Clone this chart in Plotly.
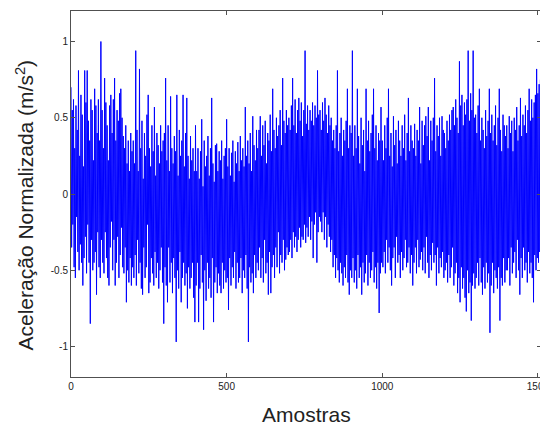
import plotly.graph_objects as go

# Every 2nd sample, values read/
passo = 2

acel_0000 = [0.70, -0.35, 0.55, -0.20, 0.62, -0.48, 0.30, -0.55, 0.58, -0.15, 0.42, -0.38, 0.81,
             -0.50, 0.25, -0.33, 0.65, -0.45, 0.52, -0.60, 0.18, -0.42, 0.81, -0.28, 0.60, -0.52,
             0.81, -0.20, 0.48, -0.45, 0.35, -0.85, 0.62, -0.30, 0.55, -0.50, 0.22, -0.45, 0.69,
             -0.38, 0.58, -0.66, 0.40, -0.25, 0.62, -0.48, 0.35, -0.55, 1.00, -0.30]
acel_0100 = [0.55, -0.45, 0.30, -0.52, 0.76, -0.25, 0.60, -0.42, 0.45, -0.55, 0.22, -0.60, 0.58,
             -0.35, 0.65, -0.18, 0.40, -0.50, 0.62, -0.30, 0.76, -0.60, 0.35, -0.45, 0.55, -0.28,
             0.48, -0.55, 0.66, -0.40, 0.69, -0.22, 0.50, -0.48, 0.38, -0.52, 0.30, -0.35, 0.45,
             -0.71, 0.20, -0.50, 0.35, -0.58, 0.15, -0.42, 0.40, -0.60, 0.28, -0.48]
acel_0200 = [0.35, -0.55, 0.20, -0.40, 0.94, -0.60, 0.42, -0.30, 0.15, -0.52, 0.82, -0.45, 0.30,
             -0.62, 0.48, -0.66, 0.10, -0.35, 0.40, -0.55, 0.25, -0.48, 0.52, -0.20, 0.65, -0.65,
             0.30, -0.58, 0.18, -0.42, 0.45, -0.52, 0.28, -0.60, 0.57, -0.38, 0.12, -0.55, 0.40,
             -0.45, 0.32, -0.62, 0.20, -0.50, 0.45, -0.35, 0.28, -0.58, 0.35, -0.85]
acel_0300 = [0.40, -0.48, 0.76, -0.60, 0.22, -0.71, 0.45, -0.35, 0.15, -0.58, 0.64, -0.45, 0.30,
             -0.65, 0.20, -0.42, 0.38, -0.55, 0.28, -0.97, 0.65, -0.50, 0.12, -0.62, 0.42, -0.38,
             0.25, -0.71, 0.35, -0.55, 0.65, -0.45, 0.18, -0.60, 0.40, -0.52, 0.63, -0.75, 0.25,
             -0.48, 0.10, -0.62, 0.38, -0.55, 0.22, -0.45, 0.30, -0.68, 0.15, -0.84]
acel_0400 = [0.45, -0.60, 0.15, -0.45, 0.30, -0.84, 0.10, -0.62, 0.28, -0.40, 0.49, -0.58, 0.05,
             -0.89, 0.35, -0.50, 0.18, -0.70, 0.25, -0.45, 0.38, -0.62, 0.12, -0.55, 0.30, -0.68,
             0.63, -0.42, 0.20, -0.84, 0.08, -0.58, 0.32, -0.48, 0.33, -0.65, 0.15, -0.52, 0.28,
             -0.60, 0.22, -0.65, 0.35, -0.45, 0.10, -0.62, 0.25, -0.50, 0.30, -0.58]
acel_0500 = [0.49, -0.55, 0.18, -0.76, 0.30, -0.42, 0.12, -0.60, 0.27, -0.48, 0.35, -0.55, 0.08,
             -0.38, 0.28, -0.62, 0.20, -0.45, 0.34, -0.58, 0.15, -0.55, 0.38, -0.42, 0.22, -0.65,
             0.30, -0.50, 0.18, -0.55, 0.57, -0.40, 0.25, -0.62, 0.35, -0.97, 0.20, -0.48, 0.40,
             -0.58, 0.15, -0.52, 0.51, -0.65, 0.32, -0.40, 0.22, -0.55, 0.42, -0.45]
acel_0600 = [0.30, -0.50, 0.42, -0.35, 0.51, -0.55, 0.25, -0.42, 0.45, -0.58, 0.32, -0.30, 0.48,
             -0.52, 0.20, -0.45, 0.40, -0.66, 0.35, -0.38, 0.52, -0.65, 0.28, -0.48, 0.69, -0.40,
             0.42, -0.55, 0.30, -0.35, 0.50, -0.48, 0.38, -0.25, 0.45, -0.52, 0.55, -0.40, 0.32,
             -0.45, 0.76, -0.30, 0.48, -0.50, 0.40, -0.43, 0.55, -0.35, 0.45, -0.40]
acel_0700 = [0.50, -0.38, 0.42, -0.30, 0.58, -0.42, 0.76, -0.25, 0.45, -0.35, 0.62, -0.28, 0.40,
             -0.38, 0.55, -0.30, 0.63, -0.22, 0.48, -0.35, 0.60, -0.28, 0.38, -0.30, 0.55, -0.20,
             0.94, -0.32, 0.46, -0.22, 0.58, -0.28, 0.42, -0.15, 0.55, -0.30, 0.48, -0.18, 0.60,
             -0.42, 0.45, -0.20, 0.58, -0.12, 0.50, -0.45, 0.81, -0.25, 0.52, -0.15]
acel_0800 = [0.55, -0.18, 0.42, -0.25, 0.60, -0.12, 0.48, -0.30, 0.63, -0.15, 0.52, -0.35, 0.40,
             -0.20, 0.58, -0.28, 0.45, -0.38, 0.50, -0.30, 0.35, -0.48, 0.42, -0.40, 0.30, -0.55,
             0.45, -0.42, 0.81, -0.50, 0.28, -0.58, 0.40, -0.45, 0.50, -0.52, 0.25, -0.60, 0.42,
             -0.48, 0.35, -0.55, 0.48, -0.40, 0.69, -0.58, 0.30, -0.66, 0.45, -0.50]
acel_0900 = [0.40, -0.55, 0.94, -0.42, 0.25, -0.58, 0.45, -0.50, 0.30, -0.62, 0.69, -0.40, 0.38,
             -0.55, 0.20, -0.48, 0.50, -0.66, 0.32, -0.45, 0.42, -0.58, 0.15, -0.52, 0.69, -0.40,
             0.35, -0.60, 0.48, -0.45, 0.28, -0.55, 0.40, -0.50, 0.52, -0.38, 0.69, -0.58, 0.30,
             -0.48, 0.45, -0.62, 0.22, -0.45, 0.40, -0.78, 0.35, -0.52, 0.57, -0.45]
acel_1000 = [0.35, -0.48, 0.22, -0.38, 0.45, -0.52, 0.30, -0.30, 0.50, -0.45, 0.69, -0.35, 0.25,
             -0.50, 0.40, -0.60, 0.18, -0.42, 0.51, -0.35, 0.32, -0.55, 0.42, -0.28, 0.20, -0.45,
             0.48, -0.40, 0.35, -0.55, 0.25, -0.38, 0.45, -0.50, 0.30, -0.42, 0.52, -0.30, 0.22,
             -0.48, 0.40, -0.45, 0.63, -0.35, 0.28, -0.52, 0.45, -0.40, 0.35, -0.60]
acel_1100 = [0.30, -0.45, 0.46, -0.35, 0.25, -0.52, 0.42, -0.30, 0.35, -0.48, 0.57, -0.43, 0.20,
             -0.38, 0.48, -0.50, 0.32, -0.35, 0.45, -0.52, 0.51, -0.28, 0.38, -0.45, 0.57, -0.55,
             0.22, -0.40, 0.48, -0.50, 0.35, -0.32, 0.50, -0.45, 0.76, -0.40, 0.28, -0.60, 0.45,
             -0.35, 0.38, -0.52, 0.50, -0.42, 0.25, -0.48, 0.51, -0.38, 0.42, -0.55]
acel_1200 = [0.40, -0.50, 0.30, -0.45, 0.48, -0.58, 0.35, -0.40, 0.52, -0.55, 0.42, -0.48, 0.55,
             -0.35, 0.57, -0.60, 0.45, -0.52, 0.62, -0.45, 0.50, -0.65, 0.40, -0.55, 0.87, -0.71,
             0.58, -0.48, 0.65, -0.62, 0.45, -0.55, 0.60, -0.68, 0.52, -0.77, 0.62, -0.50, 0.94,
             -0.65, 0.48, -0.58, 0.66, -0.83, 0.55, -0.60, 0.94, -0.52, 0.50, -0.62]
acel_1300 = [0.52, -0.55, 0.40, -0.45, 0.58, -0.60, 0.69, -0.42, 0.35, -0.58, 0.50, -0.66, 0.42,
             -0.48, 0.30, -0.62, 0.55, -0.45, 0.38, -0.58, 0.48, -0.52, 0.69, -0.91, 0.40, -0.60,
             0.52, -0.45, 0.35, -0.65, 0.45, -0.50, 0.58, -0.55, 0.32, -0.62, 0.50, -0.48, 0.69,
             -0.83, 0.42, -0.55, 0.28, -0.60, 0.52, -0.42, 0.45, -0.58, 0.38, -0.50]
acel_1400 = [0.45, -0.50, 0.30, -0.42, 0.51, -0.60, 0.40, -0.35, 0.48, -0.52, 0.28, -0.45, 0.50,
             -0.38, 0.42, -0.55, 0.57, -0.30, 0.35, -0.50, 0.45, -0.66, 0.63, -0.42, 0.38, -0.55,
             0.52, -0.35, 0.45, -0.50, 0.58, -0.45, 0.40, -0.58, 0.55, -0.38, 0.69, -0.52, 0.48,
             -0.45, 0.62, -0.55, 0.50, -0.71, 0.60, -0.40, 0.65, -0.50, 0.82, -0.42, 0.66, -0.45,
             0.72, -0.38, 0.75]

valores = (acel_0000 + acel_0100 + acel_0200 + acel_0300 + acel_0400 + acel_0500 + acel_0600
           + acel_0700 + acel_0800 + acel_0900 + acel_1000 + acel_1100 + acel_1200 + acel_1300
           + acel_1400)
amostras = [i * passo for i in range(len(valores))]

x_ticks = [0, 500, 1000, 1500]
y_ticks = [-1, -0.5, 0, 0.5, 1]
y_tick_labels = ["-1", "-0.5", "0", "0.5", "1"]

x_title = "Amostras"
y_title = "Aceleração Normalizada (m/s<sup>2</sup>)"

fig = go.Figure()
fig.add_trace(go.Scatter(x=amostras, y=valores, mode="lines",
                         line=dict(color="rgb(0,0,255)", width=1), showlegend=False))

axis_common = dict(showline=True, linecolor="#505050", linewidth=1, mirror="ticks",
                   ticks="inside", ticklen=4, tickcolor="#505050", showgrid=False,
                   zeroline=False, automargin=False, ticklabeloverflow="allow",
                   tickfont=dict(family="Liberation Sans, Arial", size=10, color="#222222"))

title_font = dict(family="Liberation Sans, Arial", size=21, color="#222222")

fig.update_layout(
    width=540, height=420,
    margin=dict(l=63, r=7, t=3, b=51),
    paper_bgcolor="white", plot_bgcolor="white",
    font=dict(family="Liberation Sans, Arial", color="#222222"),
    xaxis=dict(range=[0, 1510], tickvals=x_ticks, ticktext=[str(v) for v in x_ticks],
               **axis_common),
    yaxis=dict(range=[-1.2, 1.2], tickvals=y_ticks, ticktext=y_tick_labels, **axis_common),
    annotations=[
        dict(text=x_title, xref="paper", yref="paper", x=0.5, y=0, xanchor="center",
             yanchor="middle", yshift=-37, showarrow=False, font=title_font),
        dict(text=y_title, xref="paper", yref="paper", x=0, y=0.4686, xanchor="center",
             yanchor="middle", xshift=-46, textangle=-90, showarrow=False, font=title_font),
    ],
)

fig.write_html("out.html")
